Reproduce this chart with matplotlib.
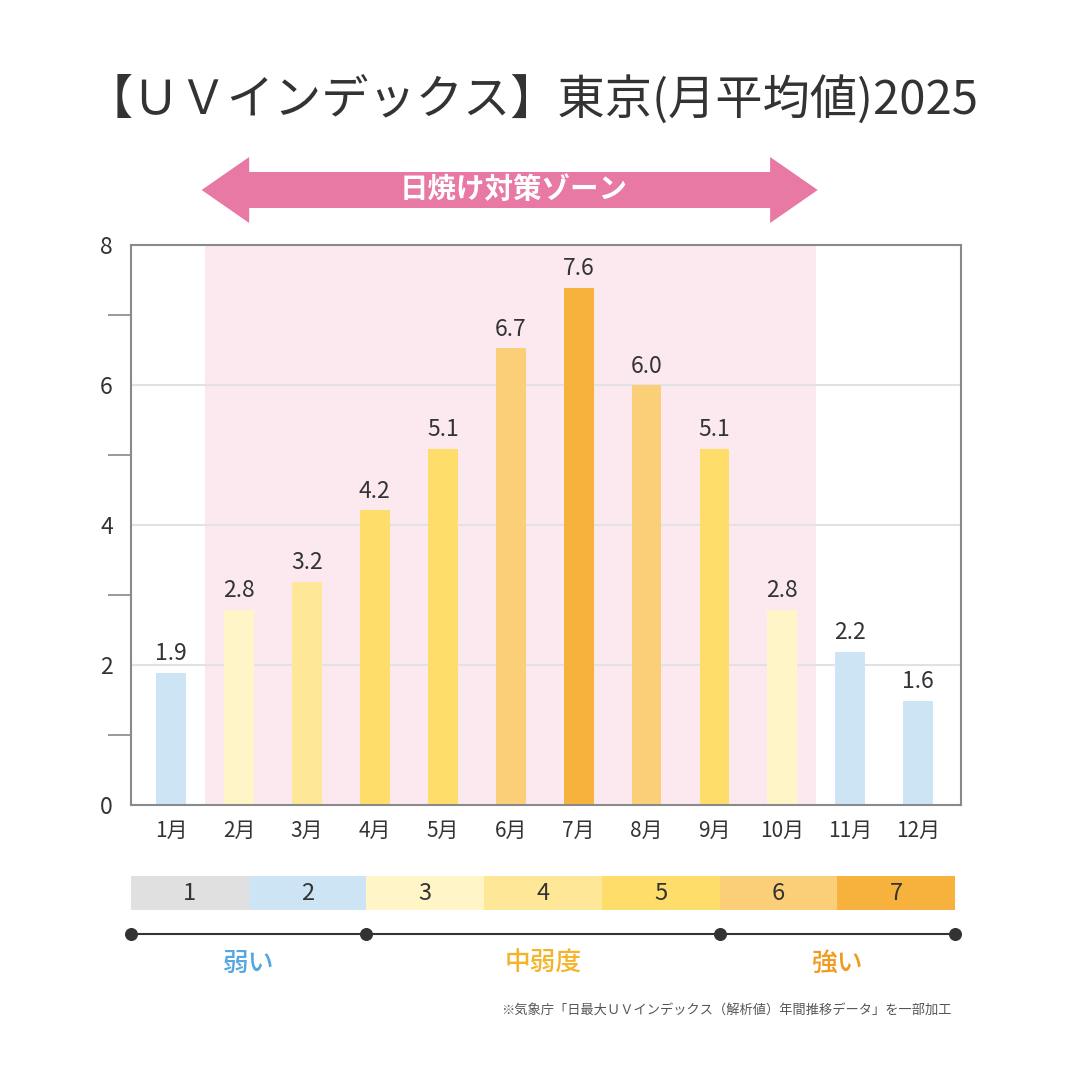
import numpy as np
import matplotlib
matplotlib.use('Agg')
import matplotlib.pyplot as plt
from matplotlib import transforms
from matplotlib.patches import Polygon

plt.rcParams['font.family'] = ['Noto Sans CJK JP', 'DejaVu Sans']

# data
months = ['1月', '2月', '3月', '4月', '5月', '6月', '7月', '8月', '9月', '10月', '11月', '12月']
uv_labels = ['1.9', '2.8', '3.2', '4.2', '5.1', '6.7', '7.6', '6.0', '5.1', '2.8', '2.2', '1.6']
uv_heights = [1.89, 2.79, 3.19, 4.21, 5.09, 6.53, 7.39, 6.0, 5.09, 2.79, 2.19, 1.49]
uv_levels = [2, 3, 4, 5, 5, 6, 7, 6, 5, 3, 2, 2]

level_names = ['1', '2', '3', '4', '5', '6', '7']
level_colors = ['#e0e0e0', '#cde4f5', '#fff5c6', '#fee897', '#fedd6b', '#fbcf77', '#f7b13d']

groups = ['弱い', '中弱度', '強い']
group_bounds = [0, 2, 5, 7]
group_colors = ['#55a7e0', '#f5b329', '#f29a1e']

zone_start, zone_end = 0.5, 9.5
zone_label = '日焼け対策ゾーン'

title = '【ＵＶインデックス】東京(月平均値)2025'
note = '※気象庁「日最大ＵＶインデックス（解析値）年間推移データ」を一部加工'

text_color = '#333333'

fig = plt.figure(figsize=(10.8, 10.8), dpi=100)
fig.patch.set_facecolor('white')

# main chart
ax = fig.add_axes([131 / 1080, 1 - 805 / 1080, 830 / 1080, 560 / 1080])
x = np.arange(len(months))
ax.axvspan(zone_start, zone_end, color='#fbe9ef', zorder=0, lw=0)
for yv in [2, 4, 6]:
    ax.axhline(yv, color='#e2e2e2', lw=1.5, zorder=1)
bar_colors = [level_colors[lv - 1] for lv in uv_levels]
ax.bar(x, uv_heights, width=0.44, color=bar_colors, zorder=2)
for xi, h, lab in zip(x, uv_heights, uv_labels):
    ax.annotate(lab, (xi, h), xytext=(0, 13.5), textcoords='offset points',
                ha='center', va='center', fontsize=16.5, color=text_color)

ax.set_xlim(-0.59, 11.63)
ax.set_ylim(0, 8)
ax.set_xticks(x)
ax.set_xticklabels(months, fontsize=15, color=text_color)
ax.set_yticks([0, 2, 4, 6, 8])
ax.set_yticklabels(['0', '2', '4', '6', '8'], fontsize=16.5, color=text_color)
ax.set_yticks([1, 3, 5, 7], minor=True)
ax.tick_params(axis='x', length=0, pad=11)
ax.tick_params(axis='y', which='major', length=0, pad=13)
ax.tick_params(axis='y', which='minor', length=16.5, width=1.2, color='#888888')
for sp in ax.spines.values():
    sp.set_color('#8a8a8a')
    sp.set_linewidth(1.5)

# zone arrow above the chart
trans = transforms.blended_transform_factory(ax.transData, fig.transFigure)
head = 0.7
y_mid = 1 - 190 / 1080
shaft = 18 / 1080
wing = 33 / 1080
x0, x1 = zone_start - 0.05, zone_end + 0.02
arrow_pts = [
    (x0, y_mid),
    (x0 + head, y_mid + wing),
    (x0 + head, y_mid + shaft),
    (x1 - head, y_mid + shaft),
    (x1 - head, y_mid + wing),
    (x1, y_mid),
    (x1 - head, y_mid - wing),
    (x1 - head, y_mid - shaft),
    (x0 + head, y_mid - shaft),
    (x0 + head, y_mid - wing),
]
ax.add_patch(Polygon(arrow_pts, closed=True, transform=trans, clip_on=False,
                     facecolor='#e878a4', edgecolor='none'))
ax.text((zone_start + zone_end) / 2 + 0.04, y_mid, zone_label, transform=trans,
        ha='center', va='center', fontsize=20.5, color='white', fontweight='bold')

# title and note
fig.text(0.493, 1 - 100 / 1080, title, ha='center', va='center',
         fontsize=34, color=text_color)
fig.text(952 / 1080, 1 - 1011 / 1080, note, ha='right', va='center',
         fontsize=9.5, color='#555555')

# level scale
lax = fig.add_axes([131 / 1080, 1 - 985 / 1080, 824 / 1080, 117 / 1080])
lax.set_xlim(0, 7)
lax.set_ylim(117, 0)
lax.axis('off')
for i, (name, col) in enumerate(zip(level_names, level_colors)):
    lax.bar(i + 0.5, 34, bottom=8, width=1.0, color=col, lw=0)
    lax.text(i + 0.5, 25, name, ha='center', va='center', fontsize=17, color=text_color)
lax.plot([group_bounds[0], group_bounds[-1]], [66, 66], color=text_color, lw=1.5, clip_on=False)
lax.scatter(group_bounds, [66] * len(group_bounds), s=70, color=text_color, zorder=3, clip_on=False)
for gi, (g, gc) in enumerate(zip(groups, group_colors)):
    cx = (group_bounds[gi] + group_bounds[gi + 1]) / 2
    lax.text(cx, 95, g, ha='center', va='center', fontsize=18.5, color=gc, fontweight='medium')

fig.savefig('out.png', dpi=100, facecolor='white')
